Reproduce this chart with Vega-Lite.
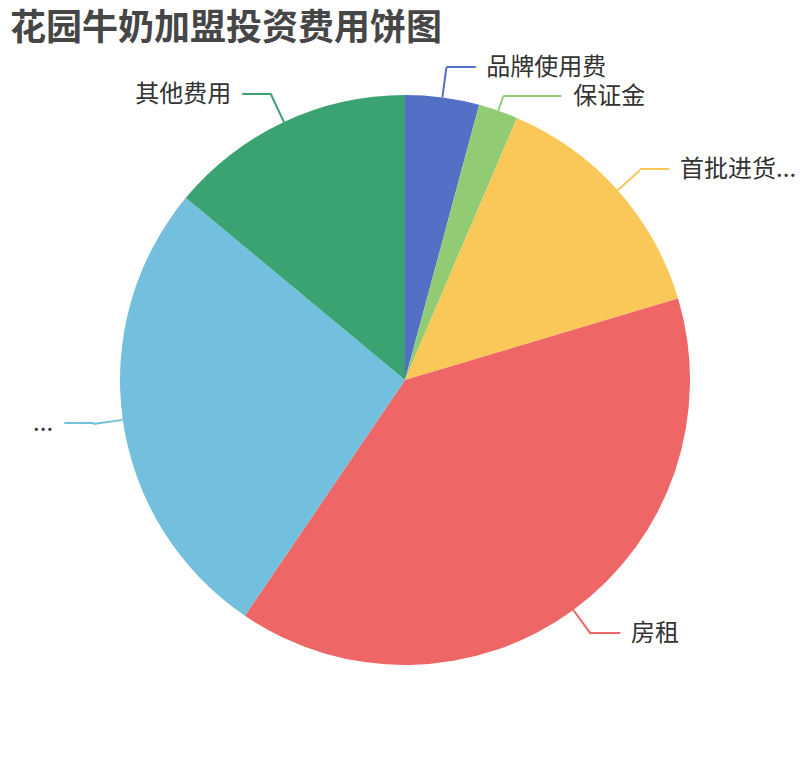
{
  "$schema": "https://vega.github.io/schema/vega-lite/v6.json",
  "width": 810,
  "height": 760,
  "autosize": {"type": "none"},
  "padding": 0,
  "background": "white",
  "title": {
    "text": "花园牛奶加盟投资费用饼图",
    "anchor": "start",
    "dx": 10,
    "dy": 37,
    "offset": -39,
    "baseline": "alphabetic",
    "font": "Noto Sans CJK SC",
    "fontSize": 36,
    "fontWeight": "bold",
    "color": "#464646"
  },
  "data": {
    "values": [
      {"name": "品牌使用费", "value": 3, "order": 1},
      {"name": "保证金", "value": 1.6, "order": 2},
      {"name": "首批进货...", "value": 10, "order": 3},
      {"name": "房租", "value": 28, "order": 4},
      {"name": "...", "value": 19, "order": 5},
      {"name": "其他费用", "value": 10, "order": 6}
    ]
  },
  "transform": [
    {"stack": "value", "groupby": [], "sort": [{"field": "order", "order": "ascending"}], "as": ["v0", "v1"]},
    {"calculate": "(datum.v0 + datum.v1) / 2", "as": "mid"},
    {"calculate": "datum.mid - 0.038", "as": "m0"},
    {"calculate": "datum.mid + 0.038", "as": "m1"}
  ],
  "encoding": {
    "color": {
      "field": "name",
      "type": "nominal",
      "scale": {
        "domain": ["品牌使用费", "保证金", "首批进货...", "房租", "...", "其他费用"],
        "range": ["#5470c6", "#91cc75", "#fac858", "#ee6666", "#73c0de", "#3ba272"]
      },
      "legend": null
    }
  },
  "layer": [
    {
      "mark": {"type": "arc", "radius": 285},
      "encoding": {
        "theta": {"field": "v0", "type": "quantitative", "scale": {"domain": [0, 71.6]}},
        "theta2": {"field": "v1"}
      }
    },
    {
      "transform": [{"filter": "datum.name !== '保证金'"}],
      "mark": {"type": "arc", "radius": 315, "radius2": 285},
      "encoding": {
        "theta": {"field": "m0", "type": "quantitative"},
        "theta2": {"field": "m1"}
      }
    },
    {
      "transform": [{"filter": "datum.name === '保证金'"}],
      "mark": {"type": "arc", "radius": 300, "radius2": 285},
      "encoding": {
        "theta": {"field": "m0", "type": "quantitative"},
        "theta2": {"field": "m1"}
      }
    },
    {
      "transform": [{"filter": {"field": "name", "oneOf": ["品牌使用费", "首批进货...", "房租"]}}],
      "mark": {"type": "text", "radius": 315, "text": "──", "font": "DejaVu Sans Mono", "fontSize": 24, "align": "left", "baseline": "middle"},
      "encoding": {"theta": {"field": "mid", "type": "quantitative", "stack": null}}
    },
    {
      "transform": [{"filter": "datum.name === '保证金'"}],
      "mark": {"type": "text", "radius": 300, "text": "────", "font": "DejaVu Sans Mono", "fontSize": 24, "align": "left", "baseline": "middle"},
      "encoding": {"theta": {"field": "mid", "type": "quantitative", "stack": null}}
    },
    {
      "transform": [{"filter": {"field": "name", "oneOf": ["...", "其他费用"]}}],
      "mark": {"type": "text", "radius": 315, "text": "──", "font": "DejaVu Sans Mono", "fontSize": 24, "align": "right", "baseline": "middle"},
      "encoding": {"theta": {"field": "mid", "type": "quantitative", "stack": null}}
    },
    {
      "transform": [{"filter": {"field": "name", "oneOf": ["品牌使用费", "首批进货...", "房租"]}}],
      "mark": {"type": "text", "radius": 315, "dx": 40, "font": "Noto Sans CJK SC", "fontSize": 24, "align": "left", "baseline": "middle", "color": "#333"},
      "encoding": {
        "theta": {"field": "mid", "type": "quantitative", "stack": null},
        "text": {"field": "name"},
        "color": {"value": "#333"}
      }
    },
    {
      "transform": [{"filter": "datum.name === '保证金'"}],
      "mark": {"type": "text", "radius": 300, "dx": 70, "font": "Noto Sans CJK SC", "fontSize": 24, "align": "left", "baseline": "middle", "color": "#333"},
      "encoding": {
        "theta": {"field": "mid", "type": "quantitative", "stack": null},
        "text": {"field": "name"},
        "color": {"value": "#333"}
      }
    },
    {
      "transform": [{"filter": {"field": "name", "oneOf": ["...", "其他费用"]}}],
      "mark": {"type": "text", "radius": 315, "dx": -40, "font": "Noto Sans CJK SC", "fontSize": 24, "align": "right", "baseline": "middle", "color": "#333"},
      "encoding": {
        "theta": {"field": "mid", "type": "quantitative", "stack": null},
        "text": {"field": "name"},
        "color": {"value": "#333"}
      }
    }
  ]
}
